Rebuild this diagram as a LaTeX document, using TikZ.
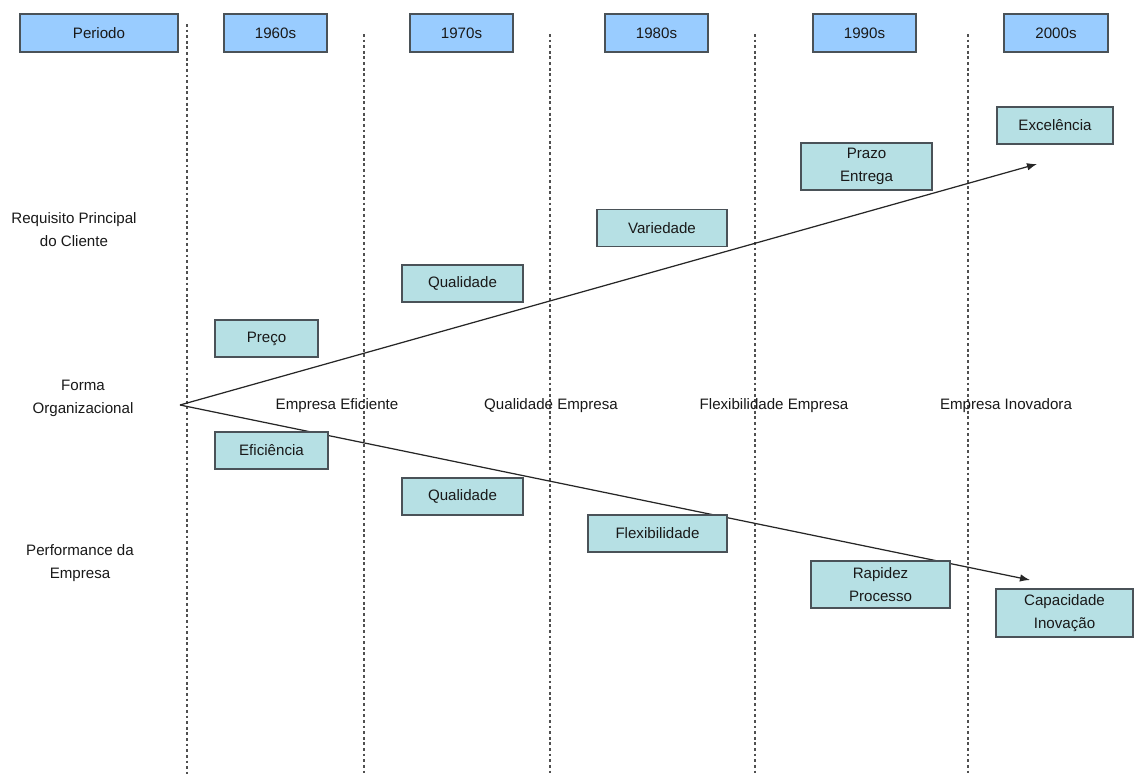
\documentclass[tikz,border=0pt]{standalone}
\usepackage{fontspec}
\setmainfont{Liberation Sans}
\usetikzlibrary{arrows.meta}
\definecolor{headfill}{HTML}{99CCFF}
\definecolor{boxfill}{HTML}{B6E0E4}
\definecolor{boxline}{HTML}{4A5258}
\definecolor{gridline}{HTML}{505050}
\begin{document}
\begin{tikzpicture}[x=0.02cm,y=-0.02cm,
  every node/.style={font=\fontsize{8.6}{13}\selectfont, text=black!90, inner sep=0pt, align=center},
  headbox/.style={draw=boxline, line width=0.9pt, fill=headfill, minimum height=0.76cm},
  itembox/.style={draw=boxline, line width=0.9pt, fill=boxfill, minimum height=0.74cm},
  tallbox/.style={itembox, minimum height=0.95cm},
  divider/.style={gridline, line width=0.8pt, dash pattern=on 1.6pt off 1.6pt},
  trend/.style={black!85, line width=0.7pt, -{Latex[length=0.2cm,width=0.15cm]}}]
\useasboundingbox[fill=white] (0,0) rectangle (1134,774);

% period dividers
\foreach \xx/\yy in {187/24, 364/34, 550/34, 755/34, 968/34}
  \draw[divider] (\xx,\yy) -- (\xx,774);

% header row
\node[headbox, minimum width=3.16cm] (hper) at (99,33) {Periodo};
\node[headbox, minimum width=2.06cm] (h60) at (275.5,33) {1960s};
\node[headbox, minimum width=2.06cm] (h70) at (461.5,33) {1970s};
\node[headbox, minimum width=2.06cm] (h80) at (656.5,33) {1980s};
\node[headbox, minimum width=2.06cm] (h90) at (864.5,33) {1990s};
\node[headbox, minimum width=2.08cm] (h00) at (1056,33) {2000s};

% row labels
\node (lreq) at (74,230) {Requisito Principal\\do Cliente};
\node (lform) at (83,398) {Forma\\Organizacional};
\node (lperf) at (80,563) {Performance da\\Empresa};

% organisational forms
\node (f60) at (337,406) {Empresa Eficiente};
\node (f70) at (551,406) {Qualidade Empresa};
\node (f80) at (774,406) {Flexibilidade Empresa};
\node (f00) at (1006,406) {Empresa Inovadora};

% trend arrows
\coordinate (o) at (180,405);
\coordinate (up) at (1037,164);
\coordinate (dn) at (1030,580);
\draw[trend] (o) -- (up);
\draw[trend] (o) -- (dn);

% customer requirements
\node[itembox, minimum width=2.32cm] (rexc) at (1055,125.5) {Excelência};
\node[tallbox, minimum width=2.62cm] (rpra) at (866.5,166.5) {Prazo\\Entrega};
\node[itembox, minimum width=2.6cm] (rvar) at (662,228) {Variedade};
\node[itembox, minimum width=2.42cm] (rqua) at (462.5,283.5) {Qualidade};
\node[itembox, minimum width=2.06cm] (rpre) at (266.5,338.5) {Preço};

% company performance
\node[itembox, minimum width=2.26cm] (pefi) at (271.5,450.5) {Eficiência};
\node[itembox, minimum width=2.42cm] (pqua) at (462.5,496.5) {Qualidade};
\node[itembox, minimum width=2.78cm] (pflx) at (657.5,533.5) {Flexibilidade};
\node[tallbox, minimum width=2.78cm] (prap) at (880.5,584.5) {Rapidez\\Processo};
\node[tallbox, minimum width=2.74cm] (pcap) at (1064.5,613) {Capacidade\\Inovação};
\end{tikzpicture}
\end{document}
